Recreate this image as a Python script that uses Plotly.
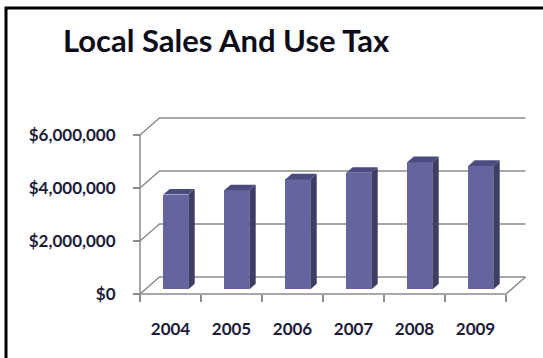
import plotly.graph_objects as go

# ---------------- data ----------------
YEARS = ["2004", "2005", "2006", "2007", "2008", "2009"]
TAX = [3580000, 3740000, 4150000, 4400000, 4800000, 4660000]
Y_TICKS = [0, 2000000, 4000000, 6000000]
Y_TICK_TEXT = ["$0", "$2,000,000", "$4,000,000", "$6,000,000"]
TITLE = "Local Sales And Use Tax"

# ---------------- layout geometry ----------------
W, H = 543, 358
ML, MR, MT, MB = 131, 10, 112, 60
PW, PH = W - ML - MR, H - MT - MB
PX_PER_CAT = 61.0
PX_PER_VAL = 26.5 / 1e6
AX_X_PX, AX_Y_PX = 140, 294  # front corner of the floor

x0 = -0.5 - (AX_X_PX - ML) / PX_PER_CAT
XR = [x0, x0 + PW / PX_PER_CAT]
y0 = -((H - MB) - AX_Y_PX) / PX_PER_VAL
YR = [y0, y0 + PH / PX_PER_VAL]

DX = 19.5 / PX_PER_CAT       # depth vector (category units)
DY = 17.0 * 1e6 / 26.5       # depth vector (value units)
F1, F2 = 0.27, 0.6           # bar front / back depth fractions
BW = 0.41                    # bar width

FRONT = "#64649f"
SIDE = "#3d3d66"
TOP = "#4b4b80"
GRID = "#8c8c8c"
TXT = "#1c1c3a"

n = len(YEARS)
left, right = -0.5, n - 0.5

fig = go.Figure()

# gridlines / walls (drawn below the traces)
grid_paths = []
for v in Y_TICKS:
    grid_paths.append([(left, v), (left + DX, v + DY), (right + DX, v + DY)])
grid_paths.append([(left, 0), (right, 0), (right + DX, DY)])
grid_paths.append([(left, 0), (left, Y_TICKS[-1])])
shapes = []
for pts in grid_paths:
    d = "M " + " L ".join("{},{}".format(px, py) for px, py in pts)
    shapes.append(dict(type="path", xref="x", yref="y", path=d, layer="below",
                       line=dict(color=GRID, width=1.5)))

# bar front faces
fig.add_trace(go.Bar(x=list(range(n)), y=TAX, base=F1 * DY, width=BW,
                     offset=F1 * DX - BW / 2, marker=dict(color=FRONT, line=dict(width=0)),
                     showlegend=False, hoverinfo="skip"))

# side and top faces
for i, v in enumerate(TAX):
    xl = i + F1 * DX - BW / 2
    xr = xl + BW
    yb = F1 * DY
    yt = v + F1 * DY
    ddx = (F2 - F1) * DX
    ddy = (F2 - F1) * DY
    fig.add_trace(go.Scatter(x=[xr, xr + ddx, xr + ddx, xr, xr],
                             y=[yb, yb + ddy, yt + ddy, yt, yb],
                             fill="toself", fillcolor=SIDE, mode="lines",
                             line=dict(width=0, color=SIDE), hoverinfo="skip", showlegend=False))
    fig.add_trace(go.Scatter(x=[xl, xr, xr + ddx, xl + ddx, xl],
                             y=[yt, yt, yt + ddy, yt + ddy, yt],
                             fill="toself", fillcolor=TOP, mode="lines",
                             line=dict(width=0, color=TOP), hoverinfo="skip", showlegend=False))

# invisible trace for the category axis
fig.add_trace(go.Scatter(x=YEARS, y=TAX, xaxis="x2", mode="markers",
                         marker=dict(opacity=0), hoverinfo="skip", showlegend=False))

tick_font = dict(family="Lato", size=17, color=TXT, weight="bold")

shapes.append(dict(type="path", xref="paper", yref="paper",
                   path="M {a},{b} L {c},{b} L {c},{d}".format(
                       a=(560 - ML) / PW, b=((H - MB) - 8) / PH,
                       c=(6 - ML) / PW, d=((H - MB) - 370) / PH),
                   line=dict(color="black", width=3)))

fig.update_layout(
    width=W, height=H,
    margin=dict(l=ML, r=MR, t=MT, b=MB, pad=0),
    paper_bgcolor="white", plot_bgcolor="rgba(0,0,0,0)",
    bargap=0,
    title=dict(text=TITLE, x=63 / W, xanchor="left", xref="container",
               y=1 - 41 / H, yanchor="middle", yref="container",
               font=dict(family="Lato", size=31, color="#0d0d1a", weight="bold")),
    xaxis=dict(range=XR, visible=False, fixedrange=True),
    xaxis2=dict(type="category", categoryorder="array", categoryarray=YEARS,
                overlaying="x", anchor="free",
                position=((H - MB) - AX_Y_PX) / PH,
                range=XR, tickson="boundaries", ticks="outside", ticklen=7,
                tickcolor=GRID, tickwidth=1.5, showgrid=False, showline=False,
                zeroline=False, tickfont=tick_font, ticklabelstandoff=23),
    yaxis=dict(range=YR, anchor="free", position=(AX_X_PX - ML) / PW,
               tickvals=Y_TICKS, ticktext=Y_TICK_TEXT, ticks="outside", ticklen=7,
               tickcolor=GRID, tickwidth=1.5, showgrid=False, showline=False,
               zeroline=False, tickfont=tick_font, ticklabelstandoff=14),
    shapes=shapes,
)

fig.write_html("out.html")
